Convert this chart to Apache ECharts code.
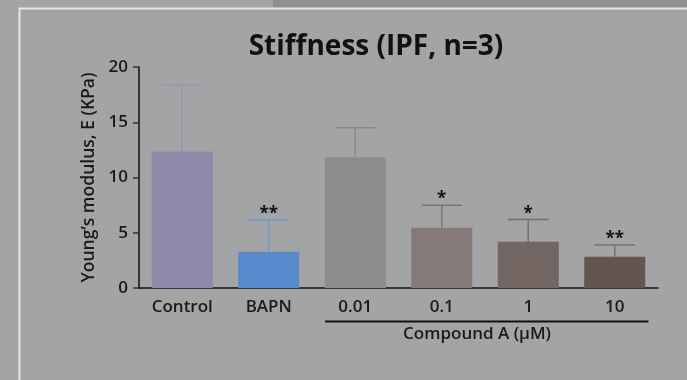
<!DOCTYPE html>
<html>
<head>
<meta charset="utf-8">
<script src="https://cdn.jsdelivr.net/npm/echarts@6/dist/echarts.min.js"></script>
<style>
html,body{margin:0;padding:0;background:#a3a4a5;}
#c{width:687px;height:380px;}
</style>
</head>
<body>
<div id="c"></div>
<script>
// ---- data ----
var categories = ['Control', 'BAPN', '0.01', '0.1', '1', '10'];
var means = [12.36, 3.27, 11.82, 5.45, 4.18, 2.82];
var sdUp = [6.0, 2.91, 2.68, 2.05, 2.02, 1.08];
var significance = ['', '**', '', '*', '*', '**'];
var yTicks = [0, 5, 10, 15, 20];
var groupLabel = 'Compound A (\u03bcM)';
var groupFrom = '0.01';
var groupTo = '10';

// ---- styles ----
var barColors = ['#8f89ab', '#578acb', '#8e8c8a', '#857a78', '#736561', '#645550'];
var errColors = ['#9892b6', '#6b9ad4', '#8a8987', '#7f7371', '#7a6d69', '#7c6f6b'];
var FONT = '"Open Sans", "Noto Sans", sans-serif';

var chart = echarts.init(document.getElementById('c'), null, {renderer: 'canvas'});

var errData = means.map(function (m, i) { return [i, m, m + sdUp[i]]; });

var option = {
  backgroundColor: '#a3a4a5',
  animation: false,
  title: {
    text: 'Stiffness (IPF, n=3)',
    left: 376, top: 33, padding: 0,
    textAlign: 'center',
    textStyle: {fontFamily: FONT, fontSize: 28, fontWeight: 'bold', color: '#111'}
  },
  grid: {left: 139, right: 29, top: 67, bottom: 92, containLabel: false},
  xAxis: {
    type: 'category',
    data: categories,
    axisLine: {lineStyle: {color: '#111', width: 1.5}},
    axisTick: {alignWithLabel: true, length: 6, lineStyle: {color: '#555', width: 1.5}},
    axisLabel: {fontFamily: FONT, fontSize: 17, fontWeight: 600, color: '#1a1a1a', margin: 11}
  },
  yAxis: {
    type: 'value',
    min: yTicks[0], max: yTicks[yTicks.length - 1], interval: yTicks[1] - yTicks[0],
    name: 'Young\u2019s modulus, E (KPa)',
    nameLocation: 'middle', nameGap: 40, nameRotate: 90,
    nameTextStyle: {fontFamily: FONT, fontSize: 17.5, fontWeight: 600, color: '#1a1a1a'},
    axisLine: {show: true, lineStyle: {color: '#111', width: 1.5}},
    axisTick: {show: true, length: 6, lineStyle: {color: '#333', width: 1.5}},
    axisLabel: {fontFamily: FONT, fontSize: 17, fontWeight: 600, color: '#1a1a1a', margin: 11},
    splitLine: {show: false}
  },
  series: [
    {
      type: 'bar',
      barWidth: 61,
      data: means.map(function (v, i) { return {value: v, itemStyle: {color: barColors[i]}}; }),
      z: 2
    },
    {
      type: 'custom',
      data: errData,
      encode: {x: 0, y: [1, 2]},
      z: 3,
      renderItem: function (params, api) {
        var i = api.value(0);
        var base = api.coord([i, api.value(1)]);
        var top = api.coord([i, api.value(2)]);
        var half = api.size([1, 0])[0] * 0.235;
        var col = errColors[i];
        var children = [
          {type: 'line', shape: {x1: base[0], y1: base[1], x2: top[0], y2: top[1]},
           style: {stroke: col, lineWidth: 1.5}},
          {type: 'line', shape: {x1: top[0] - half, y1: top[1], x2: top[0] + half, y2: top[1]},
           style: {stroke: col, lineWidth: 1.5}}
        ];
        if (significance[i]) {
          children.push({type: 'text', style: {
            text: significance[i], x: top[0], y: top[1] + 3,
            align: 'center', verticalAlign: 'bottom',
            font: 'bold 17px ' + FONT, fill: '#111'
          }});
        }
        return {type: 'group', children: children};
      }
    }
  ]
};
chart.setOption(option);

// decorations: panel frame, group bracket and label
var xFrom = chart.convertToPixel({xAxisIndex: 0}, groupFrom);
var xTo = chart.convertToPixel({xAxisIndex: 0}, groupTo);
var bandW = chart.convertToPixel({xAxisIndex: 0}, categories[1]) - chart.convertToPixel({xAxisIndex: 0}, categories[0]);
var y0 = chart.convertToPixel({yAxisIndex: 0}, 0);
chart.setOption({
  graphic: [
    {type: 'rect', shape: {x: 273, y: 0, width: 414, height: 8}, style: {fill: '#8f9091'}, z: -1},
    {type: 'polyline', shape: {points: [[19.5, 380], [19.5, 8.5], [687, 8.5]]},
     style: {stroke: '#e6e6e6', lineWidth: 2, fill: null}, z: 0},
    {type: 'line', shape: {x1: xFrom - bandW * 0.35, y1: y0 + 33.5, x2: xTo + bandW * 0.39, y2: y0 + 33.5},
     style: {stroke: '#111', lineWidth: 2}},
    {type: 'text', style: {text: groupLabel, x: (xFrom + xTo) / 2 - 8, y: y0 + 46,
      align: 'center', verticalAlign: 'middle', font: '600 17px ' + FONT, fill: '#1a1a1a'}}
  ]
});
</script>
</body>
</html>
